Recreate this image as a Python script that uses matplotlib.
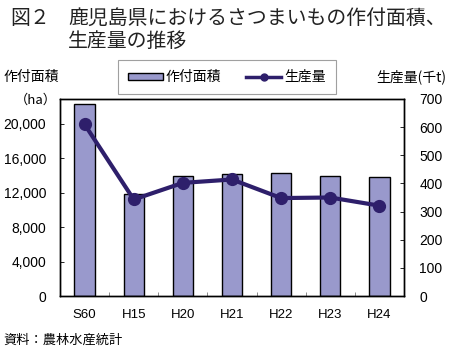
import matplotlib
matplotlib.use("Agg")
import matplotlib.pyplot as plt
from matplotlib.ticker import FuncFormatter, FixedLocator
from matplotlib.lines import Line2D
from matplotlib.patches import Rectangle
import numpy as np

plt.rcParams['font.family'] = ['Liberation Sans', 'Noto Sans CJK JP', 'DejaVu Sans']

years = ['S60', 'H15', 'H20', 'H21', 'H22', 'H23', 'H24']
area_ha = [22300, 11800, 14000, 14200, 14300, 14000, 13800]
production_kt = [610, 343, 402, 414, 348, 350, 321]

bar_color = '#9999cc'
line_color = '#2e1f6b'
jp = ['Noto Sans CJK JP', 'DejaVu Sans']

W, H = 452, 353
fig = plt.figure(figsize=(W / 100, H / 100), dpi=100)
ax = fig.add_axes([60 / W, (H - 296) / H, 344 / W, 197 / H])
ax2 = ax.twinx()

x = np.arange(len(years))
ax.bar(x, area_ha, width=0.41, color=bar_color, edgecolor='black',
       linewidth=1.0, zorder=2)
ax2.plot(x, production_kt, color=line_color, linewidth=3.0, marker='o',
         markersize=8.5, zorder=3)

ax.set_xlim(-0.5, len(years) - 0.5)
ax.set_ylim(0, 22900)
ax2.set_ylim(0, 700)
ax.set_yticks(range(0, 20001, 4000))
ax.yaxis.set_major_formatter(FuncFormatter(lambda v, p: f'{int(v):,}'))
ax2.set_yticks(range(0, 701, 100))

ax.set_xticks(x)
ax.set_xticklabels(years)
ax.xaxis.set_minor_locator(FixedLocator(np.arange(0.5, len(years) - 1, 1)))
ax.tick_params(axis='x', which='major', length=0, pad=9, labelsize=9.5)
ax.tick_params(axis='x', which='minor', direction='in', length=3, width=0.6, color='#777777')
ax.tick_params(axis='y', direction='in', length=3, width=0.6, labelsize=10, pad=10)
ax2.tick_params(axis='y', direction='in', length=3, width=0.6, labelsize=10, pad=11)

for a in (ax, ax2):
    for s in a.spines.values():
        s.set_linewidth(1.0)
        s.set_color('black')

ax.set_zorder(ax2.get_zorder() - 1)
ax2.patch.set_visible(False)

# legend above the plot area
h_bar = Rectangle((0, 0), 1, 1, facecolor=bar_color, edgecolor='black', linewidth=1.0)
h_line = Line2D([], [], color=line_color, linewidth=2.5, marker='o', markersize=5)
leg = fig.legend([h_bar, h_line], ['作付面積', '生産量'], loc='center',
                 bbox_to_anchor=(227 / W, 1 - 77 / H), ncol=2, frameon=True,
                 fancybox=False, edgecolor='#888888', handlelength=2.5,
                 handleheight=0.4, handletextpad=0.2, columnspacing=1.8,
                 prop={'family': jp, 'size': 10}, borderpad=0.75,
                 borderaxespad=0)
leg.get_frame().set_linewidth(0.8)

tcol = '#222222'
fig.text(10 / W, 1 - 18 / H, '図２', family=jp, fontsize=14.3, va='center', ha='left', color=tcol)
fig.text(68 / W, 1 - 18 / H, '鹿児島県におけるさつまいもの作付面積、',
         family=jp, fontsize=14.3, va='center', ha='left', color=tcol)
fig.text(68 / W, 1 - 41 / H, '生産量の推移',
         family=jp, fontsize=14.3, va='center', ha='left', color=tcol)
fig.text(4 / W, 1 - 77 / H, '作付面積', family=jp, fontsize=10, va='center', ha='left')
fig.text(15 / W, 1 - 100 / H, '（ha）', family=jp, fontsize=9.5, va='center', ha='left')
fig.text(446 / W, 1 - 77 / H, '生産量(千t)', family=jp, fontsize=10, va='center', ha='right')
fig.text(3 / W, 1 - 340 / H, '資料：農林水産統計', family=jp, fontsize=9.5, va='center', ha='left')

fig.savefig('out.png', dpi=100)
